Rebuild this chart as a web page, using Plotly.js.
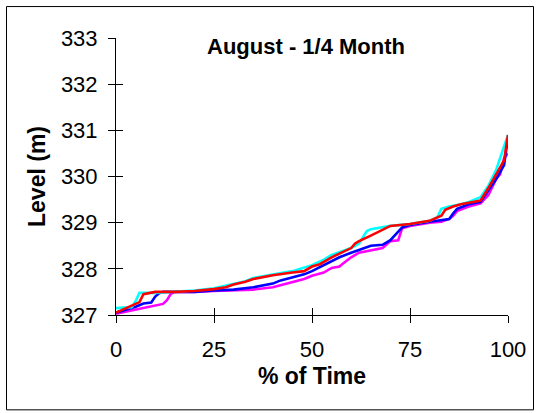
<!DOCTYPE html>
<html>
<head>
<meta charset="utf-8">
<script src="https://cdn.plot.ly/plotly-3.0.1.min.js"></script>
<style>
html,body{margin:0;padding:0;background:#fff;}
#chart{width:540px;height:413px;}
</style>
</head>
<body>
<div id="chart"></div>
<script>
// % of time (x) and water level (m) for each series
const cyanX = [0, 4, 5, 6, 10, 15, 20, 25, 30, 33, 35, 40, 45, 50, 53, 55, 58, 60, 62, 63, 64, 65, 70, 75, 80, 82, 83, 85, 88, 90, 93, 95, 97, 98, 100];
const cyanY = [327.15, 327.17, 327.3, 327.48, 327.48, 327.5, 327.53, 327.58, 327.68, 327.73, 327.8, 327.88, 327.95, 328.08, 328.2, 328.3, 328.38, 328.45, 328.55, 328.7, 328.82, 328.86, 328.93, 328.97, 329.04, 329.12, 329.3, 329.35, 329.4, 329.45, 329.55, 329.8, 330.15, 330.4, 330.9];

const redX = [0, 3, 6, 7, 10, 15, 20, 25, 28, 30, 33, 35, 40, 45, 48, 50, 52, 55, 58, 60, 61, 62, 65, 67, 70, 75, 80, 83, 84, 86, 88, 90, 93, 95, 97, 99, 100];
const redY = [327.05, 327.17, 327.28, 327.45, 327.5, 327.5, 327.52, 327.56, 327.6, 327.66, 327.72, 327.78, 327.86, 327.92, 327.95, 328.05, 328.1, 328.25, 328.38, 328.45, 328.55, 328.6, 328.72, 328.8, 328.93, 328.97, 329.04, 329.15, 329.28, 329.35, 329.4, 329.43, 329.48, 329.75, 330.05, 330.35, 330.9];

const blueX = [0, 5, 7, 9, 10, 11, 12, 15, 20, 25, 30, 35, 38, 40, 42, 45, 48, 50, 53, 55, 57, 60, 63, 65, 68, 70, 73, 75, 80, 85, 86, 87, 90, 93, 95, 97, 99, 100];
const blueY = [327.05, 327.18, 327.25, 327.27, 327.4, 327.47, 327.5, 327.5, 327.5, 327.53, 327.55, 327.6, 327.65, 327.68, 327.75, 327.82, 327.88, 327.95, 328.08, 328.15, 328.25, 328.35, 328.45, 328.5, 328.52, 328.62, 328.9, 328.95, 329.02, 329.08, 329.2, 329.3, 329.4, 329.45, 329.7, 329.95, 330.25, 330.85];

const magentaX = [0, 5, 8, 10, 12, 13, 14, 15, 20, 25, 30, 35, 40, 45, 48, 50, 53, 55, 57, 58, 60, 62, 65, 68, 70, 72, 73, 75, 80, 83, 85, 86, 87, 90, 93, 95, 97, 98, 99, 100];
const magentaY = [327.03, 327.12, 327.18, 327.2, 327.24, 327.32, 327.46, 327.5, 327.5, 327.52, 327.53, 327.55, 327.6, 327.72, 327.78, 327.85, 327.92, 328.02, 328.05, 328.12, 328.25, 328.35, 328.4, 328.45, 328.6, 328.62, 328.88, 328.93, 329.0, 329.02, 329.08, 329.15, 329.25, 329.35, 329.42, 329.6, 329.95, 330.05, 330.4, 330.5];

const xTicks = [0, 25, 50, 75, 100];
const yTicks = [327, 328, 329, 330, 331, 332, 333];

const FONT = 'Liberation Sans, Arial, sans-serif';

function line(x, y, color) {
  return {x: x, y: y, type: 'scatter', mode: 'lines',
          line: {color: color, width: 2.6}, hoverinfo: 'skip', showlegend: false};
}

const traces = [
  line(magentaX, magentaY, '#FF00FF'),
  line(blueX, blueY, '#0000FF'),
  line(cyanX, cyanY, '#00FFFF'),
  line(redX, redY, '#FF0000'),
  // invisible trace on overlay axes for inside ticks (cross ticks)
  {x: [0], y: [327], xaxis: 'x2', yaxis: 'y2', mode: 'markers', marker: {opacity: 0}, hoverinfo: 'skip', showlegend: false}
];

const W = 392, H = 277.5;
function px(v) { return (v - 116) / W; }
function py(v) { return (315.5 - v) / H; }

const layout = {
  width: 540, height: 413,
  margin: {l: 116, r: 32, t: 38, b: 97.5},
  paper_bgcolor: '#fff', plot_bgcolor: '#fff',
  font: {family: FONT, color: '#000', size: 22},
  title: {text: '<b>August - 1/4 Month</b>', font: {family: FONT, size: 22, color: '#000'},
          xref: 'container', yref: 'container', x: 306 / 540, y: 1 - 46 / 413,
          xanchor: 'center', yanchor: 'middle'},
  xaxis: {range: [0, 100], tickvals: xTicks, ticktext: xTicks.map(String),
          ticks: 'outside', ticklen: 7, tickwidth: 1, tickcolor: '#000',
          showline: true, linecolor: '#000', linewidth: 1, showgrid: false, zeroline: false,
          tickfont: {family: FONT, size: 22, color: '#000'}, ticklabelstandoff: 8,
          title: {text: '<b>% of Time</b>', font: {family: FONT, size: 23, color: '#000'}, standoff: 6}},
  yaxis: {range: [327, 333], tickvals: yTicks, ticktext: yTicks.map(String),
          ticks: 'outside', ticklen: 7, tickwidth: 1, tickcolor: '#000',
          showline: true, linecolor: '#000', linewidth: 1, showgrid: false, zeroline: false,
          tickfont: {family: FONT, size: 22, color: '#000'}, ticklabelstandoff: 6,
          title: {text: '<b>Level (m)</b>', font: {family: FONT, size: 23, color: '#000'}, standoff: 8}},
  xaxis2: {overlaying: 'x', range: [0, 100], tickvals: xTicks, ticks: 'inside', ticklen: 7,
           tickwidth: 1, tickcolor: '#000', showticklabels: false, showgrid: false, zeroline: false, showline: false},
  yaxis2: {overlaying: 'y', range: [327, 333], tickvals: yTicks, ticks: 'inside', ticklen: 7,
           tickwidth: 1, tickcolor: '#000', showticklabels: false, showgrid: false, zeroline: false, showline: false},
  shapes: [{type: 'rect', xref: 'paper', yref: 'paper',
            x0: px(6.5), x1: px(533.5), y0: py(410.5), y1: py(6.5),
            line: {color: '#000', width: 1}, fillcolor: 'rgba(0,0,0,0)', layer: 'below'}]
};

Plotly.newPlot('chart', traces, layout, {staticPlot: true, displayModeBar: false});
</script>
</body>
</html>
